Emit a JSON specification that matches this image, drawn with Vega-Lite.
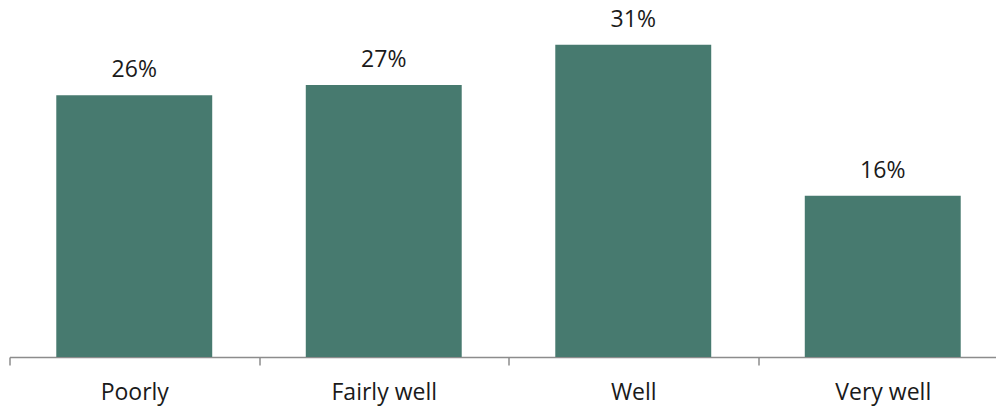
{
  "$schema": "https://vega.github.io/schema/vega-lite/v6.json",
  "autosize": {"type": "none"},
  "width": 986.5,
  "height": 357,
  "padding": {"left": 9.5, "top": 0, "right": 0, "bottom": 49},
  "background": "white",
  "config": {"view": {"stroke": null}, "font": "Open Sans"},
  "data": {"values": [
    {"category": "Poorly", "share": 0.26},
    {"category": "Fairly well", "share": 0.27},
    {"category": "Well", "share": 0.31},
    {"category": "Very well", "share": 0.16}
  ]},
  "encoding": {
    "x": {
      "field": "category", "type": "nominal", "sort": null,
      "scale": {"range": [0, 998], "paddingInner": 0, "paddingOuter": 0},
      "axis": {
        "title": null, "labelAngle": 0, "labelFontSize": 23, "labelColor": "#1a1a1a",
        "labelFont": "Open Sans", "labelBaseline": "alphabetic", "labelPadding": 34,
        "tickBand": "extent", "tickSize": 8, "tickColor": "#8c8c8c", "tickWidth": 1.5,
        "domainColor": "#8c8c8c", "domainWidth": 1.5, "grid": false
      }
    },
    "y": {
      "field": "share", "type": "quantitative",
      "scale": {"domain": [0, 0.3545], "nice": false, "zero": true},
      "axis": null
    }
  },
  "layer": [
    {"mark": {"type": "bar", "color": "#477a6f", "width": {"band": 0.625}}},
    {
      "mark": {"type": "text", "baseline": "alphabetic", "dy": -18, "fontSize": 23, "color": "#1a1a1a", "font": "Open Sans"},
      "encoding": {"text": {"field": "share", "type": "quantitative", "format": ".0%"}}
    }
  ]
}
